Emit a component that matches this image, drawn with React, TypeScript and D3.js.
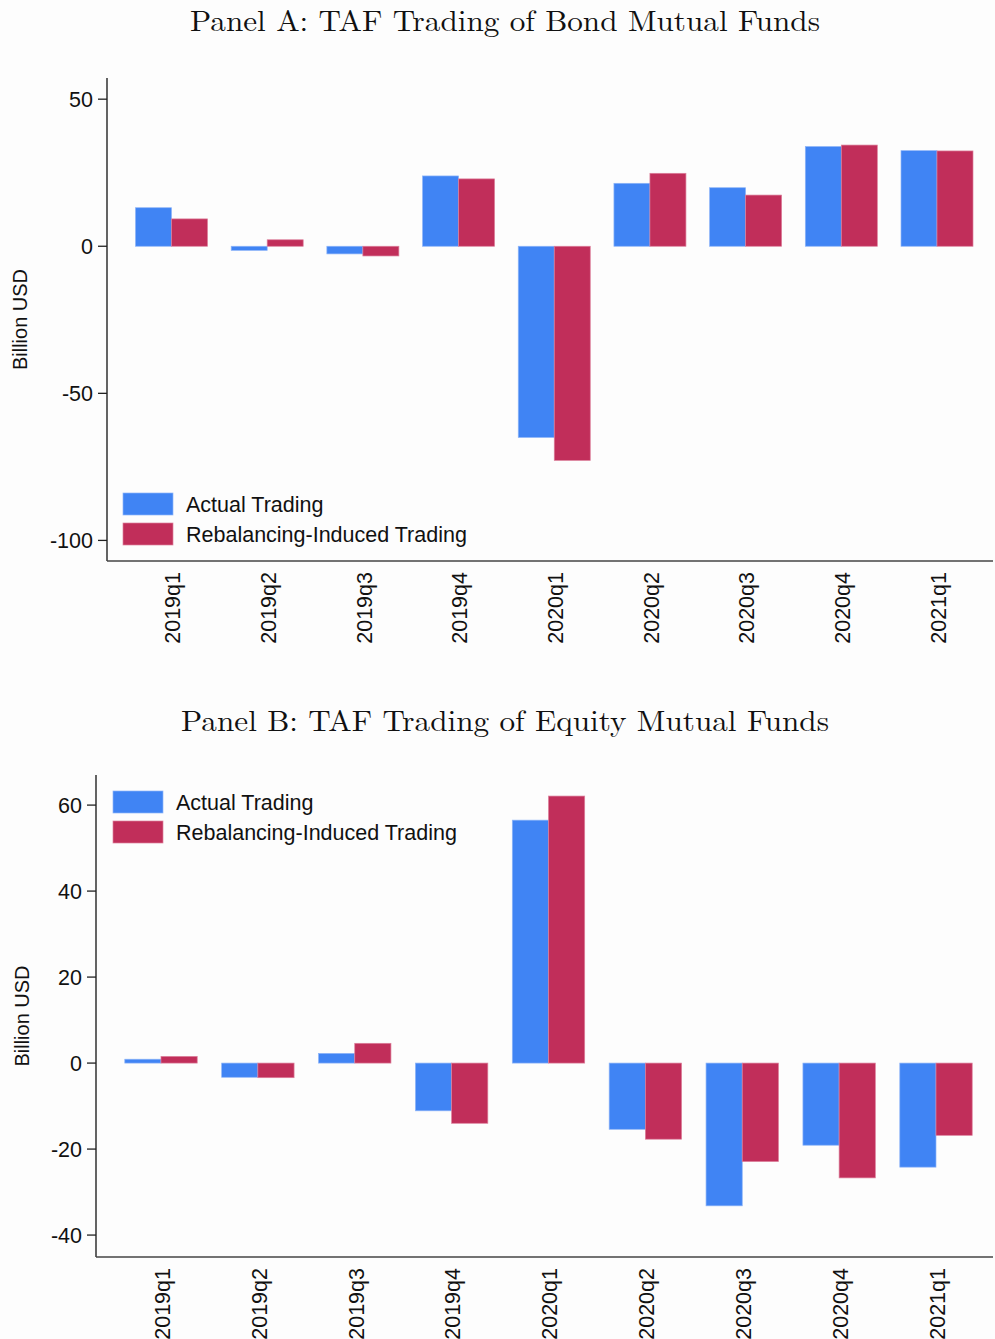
import React from 'react';
import * as d3 from 'd3';

const quarters = ['2019q1', '2019q2', '2019q3', '2019q4', '2020q1', '2020q2', '2020q3', '2020q4', '2021q1'];
const seriesNames = ['Actual Trading', 'Rebalancing-Induced Trading'];
const seriesColors = ['#4084f4', '#c12e5a'];
const seriesEdges = ['#8db4f8', '#dc7f9b'];

// Panel A: bond funds
const bondActual = [13.1, -1.4, -2.6, 23.9, -65.0, 21.4, 19.9, 33.9, 32.5];
const bondRebal = [9.3, 2.2, -3.3, 22.9, -72.8, 24.8, 17.4, 34.4, 32.4];
const bondTicks = [50, 0, -50, -100];

// Panel B: equity funds
const equityActual = [0.9, -3.3, 2.25, -11.1, 56.5, -15.4, -33.2, -19.1, -24.2];
const equityRebal = [1.55, -3.4, 4.6, -14.0, 62.1, -17.7, -22.9, -26.7, -16.8];
const equityTicks = [60, 40, 20, 0, -20, -40];

const W = 995;
const H = 1339;
const sans = 'Helvetica, "Liberation Sans", Arial, sans-serif';
const serif = '"Latin Modern Roman", "CMU Serif", "Liberation Serif", serif';

type PanelProps = {
  title: string;
  titleY: number;
  titleW: number;
  actual: number[];
  rebal: number[];
  ticks: number[];
  domain: [number, number];
  left: number;
  top: number;
  bottom: number;
  first: number;
  last: number;
  barW: number;
  legendX: number;
  legendY: number;
  labelX: number;
};

function Panel(p: PanelProps) {
  const y = d3.scaleLinear().domain(p.domain).range([p.bottom, p.top]);
  const x = d3.scalePoint<string>().domain(quarters).range([p.first, p.last]);
  const series = [p.actual, p.rebal];
  const right = W - 2;
  return (
    <g>
      <text x={505} y={p.titleY} textAnchor="middle" fontFamily={serif} fontSize={29} textLength={p.titleW} lengthAdjust="spacingAndGlyphs" fill="#111">
        {p.title}
      </text>
      {series.map((vals, si) =>
        vals.map((v, i) => {
          const cx = x(quarters[i])!;
          const x0 = si === 0 ? cx - p.barW : cx;
          const y0 = y(Math.max(0, v));
          const h = Math.abs(y(v) - y(0));
          return (
            <rect key={si + '-' + i} x={x0} y={y0} width={p.barW} height={h}
              fill={seriesColors[si]} stroke={seriesEdges[si]} strokeWidth={0.7} />
          );
        })
      )}
      <line x1={p.left} x2={p.left} y1={p.top} y2={p.bottom} stroke="#222" strokeWidth={1.4} />
      <line x1={p.left} x2={right} y1={p.bottom} y2={p.bottom} stroke="#444" strokeWidth={1.4} />
      {p.ticks.map(t => (
        <g key={t}>
          <line x1={p.left - 9} x2={p.left} y1={y(t)} y2={y(t)} stroke="#222" strokeWidth={1.3} />
          <text x={p.left - 14} y={y(t)} dy="0.36em" textAnchor="end" fontFamily={sans} fontSize={21.5} fill="#111">{t}</text>
        </g>
      ))}
      {quarters.map(q => (
        <text key={q} transform={`translate(${x(q)! + 1},${p.bottom + 11}) rotate(-90)`} dy="0.36em" textAnchor="end"
          fontFamily={sans} fontSize={21.5} fill="#111">{q}</text>
      ))}
      <text transform={`translate(${p.labelX},${(p.top + p.bottom) / 2}) rotate(-90)`} textAnchor="middle" dy="0.36em"
        fontFamily={sans} fontSize={20} fill="#111">Billion USD</text>
      {seriesNames.map((n, i) => (
        <g key={n}>
          <rect x={p.legendX} y={p.legendY + i * 30} width={50} height={22} fill={seriesColors[i]} stroke={seriesEdges[i]} strokeWidth={0.7} />
          <text x={p.legendX + 63} y={p.legendY + i * 30 + 11} dy="0.36em" fontFamily={sans} fontSize={21.5} fill="#111">{n}</text>
        </g>
      ))}
    </g>
  );
}

export default function App() {
  return (
    <div style={{ position: 'absolute', left: 0, top: 0 }}>
      <svg width={W} height={H} style={{ display: 'block' }}>
        <rect width={W} height={H} fill="#fdfdfd" />
        <Panel title="Panel A: TAF Trading of Bond Mutual Funds" titleY={31} titleW={630}
          actual={bondActual} rebal={bondRebal} ticks={bondTicks} domain={[-107, 57.2]}
          left={107} top={78} bottom={561} first={171.5} last={937} barW={36}
          legendX={123} legendY={493} labelX={20} />
        <Panel title="Panel B: TAF Trading of Equity Mutual Funds" titleY={731} titleW={648}
          actual={equityActual} rebal={equityRebal} ticks={equityTicks} domain={[-45.1, 67]}
          left={96} top={775} bottom={1257} first={161} last={936} barW={36.2}
          legendX={113} legendY={791} labelX={22} />
      </svg>
    </div>
  );
}
